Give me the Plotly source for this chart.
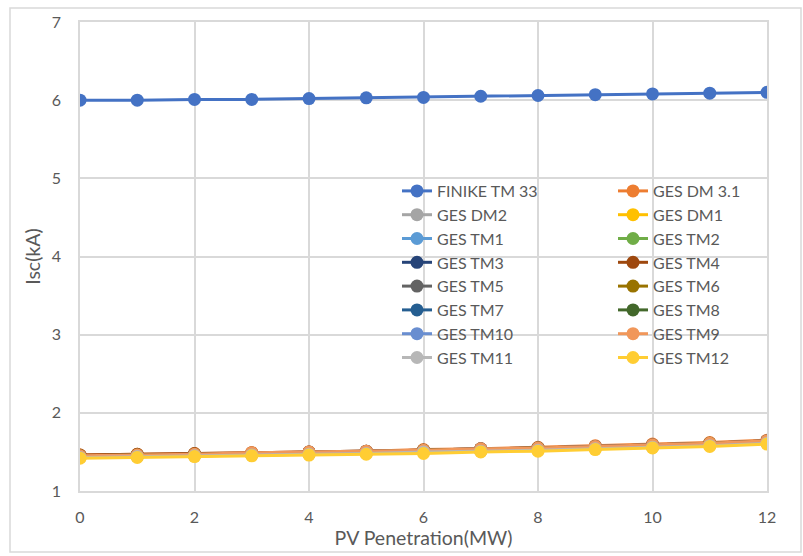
import plotly.graph_objects as go

x_vals = [0, 1, 2, 3, 4, 5, 6, 7, 8, 9, 10, 11, 12]

names = ["FINIKE TM 33", "GES DM 3.1", "GES DM2", "GES DM1", "GES TM1", "GES TM2",
         "GES TM3", "GES TM4", "GES TM5", "GES TM6", "GES TM7", "GES TM8",
         "GES TM10", "GES TM9", "GES TM11", "GES TM12"]

colors = ["#4472C4", "#ED7D31", "#A5A5A5", "#FFC000", "#5B9BD5", "#70AD47",
          "#264478", "#9E480E", "#636363", "#997300", "#255E91", "#43682B",
          "#698ED0", "#F1975A", "#B7B7B7", "#FFCD33"]

finike_tm33 = [6.00, 6.00, 6.01, 6.01, 6.02, 6.03, 6.035, 6.05, 6.06, 6.07, 6.08, 6.09, 6.10]
ges_dm31 = [1.46, 1.47, 1.48, 1.49, 1.50, 1.51, 1.53, 1.54, 1.56, 1.58, 1.60, 1.62, 1.65]
ges_dm2 = [1.45, 1.46, 1.47, 1.48, 1.49, 1.51, 1.52, 1.54, 1.55, 1.57, 1.59, 1.61, 1.64]
ges_dm1 = [1.43, 1.44, 1.45, 1.46, 1.47, 1.48, 1.50, 1.51, 1.53, 1.54, 1.56, 1.58, 1.61]
ges_tm1 = [1.44, 1.45, 1.46, 1.47, 1.48, 1.50, 1.51, 1.52, 1.54, 1.56, 1.58, 1.60, 1.63]
ges_tm2 = [1.44, 1.45, 1.46, 1.47, 1.48, 1.49, 1.51, 1.52, 1.54, 1.55, 1.57, 1.59, 1.62]
ges_tm3 = [1.45, 1.46, 1.47, 1.48, 1.49, 1.50, 1.52, 1.53, 1.55, 1.56, 1.58, 1.60, 1.63]
ges_tm4 = [1.46, 1.47, 1.48, 1.49, 1.50, 1.51, 1.52, 1.54, 1.55, 1.57, 1.59, 1.61, 1.64]
ges_tm5 = [1.45, 1.46, 1.47, 1.48, 1.50, 1.51, 1.52, 1.54, 1.55, 1.57, 1.59, 1.61, 1.64]
ges_tm6 = [1.45, 1.46, 1.47, 1.48, 1.49, 1.50, 1.52, 1.53, 1.55, 1.56, 1.58, 1.61, 1.63]
ges_tm7 = [1.44, 1.45, 1.46, 1.47, 1.49, 1.50, 1.51, 1.53, 1.54, 1.56, 1.58, 1.60, 1.63]
ges_tm8 = [1.44, 1.45, 1.46, 1.47, 1.48, 1.50, 1.51, 1.52, 1.54, 1.55, 1.57, 1.60, 1.62]
ges_tm10 = [1.43, 1.44, 1.45, 1.46, 1.48, 1.49, 1.50, 1.52, 1.53, 1.55, 1.57, 1.59, 1.62]
ges_tm9 = [1.45, 1.46, 1.47, 1.49, 1.50, 1.51, 1.52, 1.54, 1.55, 1.57, 1.59, 1.61, 1.64]
ges_tm11 = [1.43, 1.44, 1.45, 1.46, 1.47, 1.48, 1.50, 1.51, 1.52, 1.54, 1.56, 1.58, 1.61]
ges_tm12 = [1.42, 1.43, 1.44, 1.45, 1.46, 1.47, 1.48, 1.50, 1.51, 1.53, 1.55, 1.57, 1.60]

series = [finike_tm33, ges_dm31, ges_dm2, ges_dm1, ges_tm1, ges_tm2, ges_tm3, ges_tm4,
          ges_tm5, ges_tm6, ges_tm7, ges_tm8, ges_tm10, ges_tm9, ges_tm11, ges_tm12]

y_ticks = [1, 2, 3, 4, 5, 6, 7]
x_ticks = [0, 2, 4, 6, 8, 10, 12]

FONT = "Lato"
TXT = "#595959"
GRID = "#D9D9D9"

fig = go.Figure()
for i, (nm, col, ys) in enumerate(zip(names, colors, series)):
    fig.add_trace(go.Scatter(
        x=x_vals, y=ys, name=nm, mode="lines+markers",
        line=dict(color=col, width=3),
        marker=dict(color=col, size=13),
        legend="legend" if i % 2 == 0 else "legend2",
    ))

W, H = 803, 556
L, R, T, B = 80, 767, 22, 491
pw, ph = R - L, B - T

def px_x(p):
    return (p - L) / pw

def px_y(p):
    return (B - p) / ph

fig.update_layout(
    width=W, height=H,
    margin=dict(l=L, r=W - R, t=T, b=H - B, pad=0),
    paper_bgcolor="white", plot_bgcolor="white",
    font=dict(family=FONT, color=TXT, size=16),
    showlegend=True,
    legend=dict(x=px_x(397), y=px_y(174), xanchor="left", yanchor="top",
                bgcolor="rgba(0,0,0,0)", font=dict(size=16, color=TXT, family=FONT),
                tracegroupgap=0, itemwidth=30),
    legend2=dict(x=px_x(613), y=px_y(174), xanchor="left", yanchor="top",
                 bgcolor="rgba(0,0,0,0)", font=dict(size=16, color=TXT, family=FONT),
                 tracegroupgap=0, itemwidth=30),
    xaxis=dict(range=[0, 12], tickvals=x_ticks, showgrid=True, gridcolor=GRID, gridwidth=1.5,
               showline=True, linecolor=GRID, linewidth=1.5, mirror=True, zeroline=False,
               ticks="", ticklabelstandoff=11,
               tickfont=dict(size=16, color=TXT, family=FONT),
               title=dict(text="PV Penetration(MW)", font=dict(size=19.5, color=TXT, family=FONT),
                          standoff=2)),
    yaxis=dict(range=[1, 7], tickvals=y_ticks, showgrid=True, gridcolor=GRID, gridwidth=1.5,
               showline=True, linecolor=GRID, linewidth=1.5, mirror=True, zeroline=False,
               ticks="", ticklabelstandoff=14,
               tickfont=dict(size=16, color=TXT, family=FONT),
               title=dict(text="Isc(kA)", font=dict(size=19.5, color=TXT, family=FONT),
                          standoff=6)),
    shapes=[dict(type="rect", xref="paper", yref="paper",
                 x0=px_x(10), x1=px_x(801), y0=px_y(552), y1=px_y(8),
                 line=dict(color=GRID, width=1.5), fillcolor="rgba(0,0,0,0)", layer="below")],
)

fig.write_html("out.html")
